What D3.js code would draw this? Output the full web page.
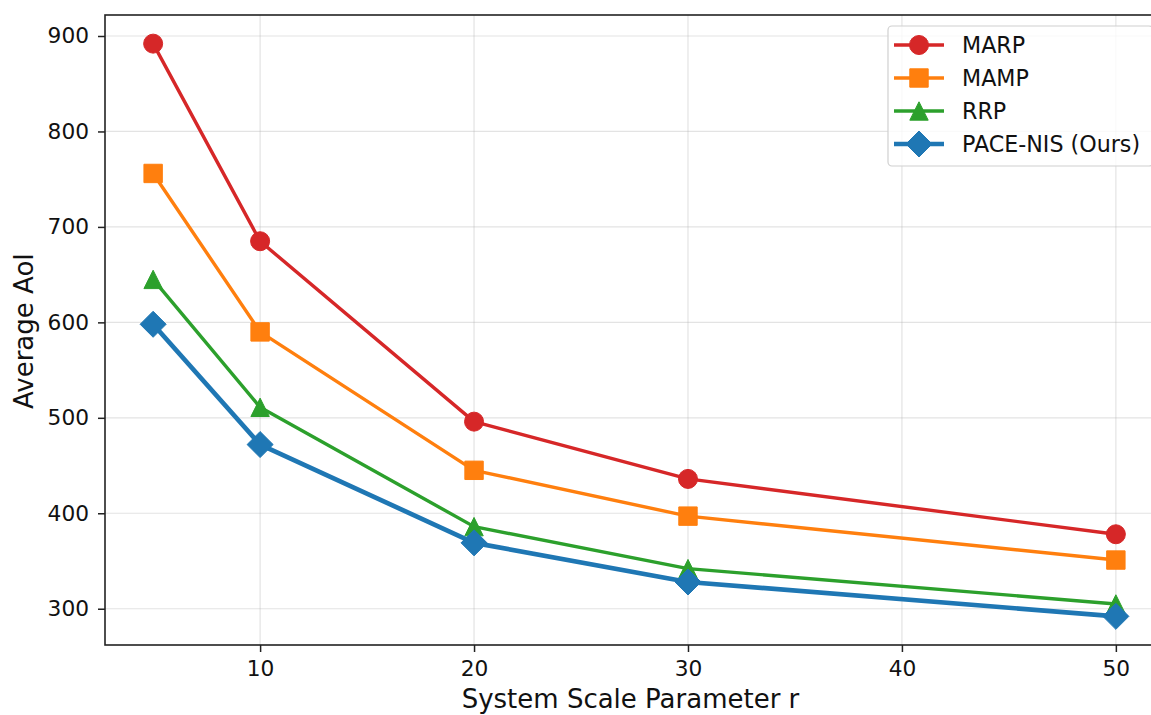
<!DOCTYPE html>
<html>
<head>
<meta charset="utf-8">
<script src="https://cdn.jsdelivr.net/npm/d3@7"></script>
<style>
  body { margin: 0; background: #fff; }
  svg { display: block; font-family: "DejaVu Sans", sans-serif; }
</style>
</head>
<body>
<div id="chart"></div>
<script>
// data
var rValues = [5, 10, 20, 30, 50];
var marp = [892, 685, 496, 436, 378];
var mamp = [756, 590, 445, 397, 351];
var rrp = [645, 511, 386, 342, 305];
var paceNis = [598, 472, 369, 328, 292];
var seriesNames = ["MARP", "MAMP", "RRP", "PACE-NIS (Ours)"];
var xTicks = [10, 20, 30, 40, 50];
var yTicks = [300, 400, 500, 600, 700, 800, 900];

var W = 1151, H = 715;
var margin = { top: 15, left: 105 };
var plotW = 1059, plotH = 630;

var series = [
    { name: seriesNames[0], values: marp, color: "#d62728", shape: "circle", width: 3.4 },
    { name: seriesNames[1], values: mamp, color: "#ff7f0e", shape: "square", width: 3.4 },
    { name: seriesNames[2], values: rrp, color: "#2ca02c", shape: "triangle", width: 3.4 },
    { name: seriesNames[3], values: paceNis, color: "#1f77b4", shape: "diamond", width: 4.7 }
];

// matplotlib style 5% margins
var xMin = d3.min(rValues), xMax = d3.max(rValues);
var yMin = d3.min(series, function (s) { return d3.min(s.values); });
var yMax = d3.max(series, function (s) { return d3.max(s.values); });
var xPad = (xMax - xMin) * 0.05, yPad = (yMax - yMin) * 0.05;

var x = d3.scaleLinear().domain([xMin - xPad, xMax + xPad]).range([0, plotW]);
var y = d3.scaleLinear().domain([yMin - yPad, yMax + yPad]).range([plotH, 0]);

var svg = d3.select("#chart").append("svg")
    .attr("width", W)
    .attr("height", H);

var g = svg.append("g")
    .attr("transform", "translate(" + margin.left + "," + margin.top + ")");

// grid
g.append("g").selectAll("line.vgrid")
    .data(xTicks).enter().append("line")
    .attr("x1", function (d) { return x(d); })
    .attr("x2", function (d) { return x(d); })
    .attr("y1", 0).attr("y2", plotH)
    .style("stroke", "#b0b0b0").style("stroke-opacity", 0.35).style("stroke-width", 1.2);

g.append("g").selectAll("line.hgrid")
    .data(yTicks).enter().append("line")
    .attr("y1", function (d) { return y(d); })
    .attr("y2", function (d) { return y(d); })
    .attr("x1", 0).attr("x2", plotW)
    .style("stroke", "#b0b0b0").style("stroke-opacity", 0.35).style("stroke-width", 1.2);

// axes
var xAxis = d3.axisBottom(x).tickValues(xTicks).tickSize(7).tickPadding(9).tickSizeOuter(0);
var yAxis = d3.axisLeft(y).tickValues(yTicks).tickSize(7).tickPadding(9).tickSizeOuter(0);

var gx = g.append("g").attr("transform", "translate(0," + plotH + ")").call(xAxis);
var gy = g.append("g").call(yAxis);

[gx, gy].forEach(function (a) {
    a.select(".domain").remove();
    a.selectAll(".tick line").style("stroke", "#222").style("stroke-width", 1.5);
    a.selectAll(".tick text")
        .style("font-size", "21.7px")
        .style("fill", "#111")
        .style("font-family", "DejaVu Sans, sans-serif");
});

// frame
g.append("rect")
    .attr("x", 0).attr("y", 0)
    .attr("width", plotW).attr("height", plotH)
    .style("fill", "none").style("stroke", "#222").style("stroke-width", 1.6);

// axis labels
svg.append("text")
    .attr("x", margin.left + plotW / 2 - 4)
    .attr("y", 708)
    .attr("text-anchor", "middle")
    .style("font-size", "26px")
    .style("fill", "#111")
    .text("System Scale Parameter r");

svg.append("text")
    .attr("transform", "translate(33," + (margin.top + plotH / 2 + 1) + ") rotate(-90)")
    .attr("text-anchor", "middle")
    .style("font-size", "26px")
    .style("fill", "#111")
    .text("Average AoI");

var markerSize = 18.4;
function markerPath(shape) {
    var s = markerSize;
    if (shape === "circle") return d3.symbol().type(d3.symbolCircle).size(Math.PI * Math.pow(s / 2 + 0.3, 2))();
    if (shape === "square") return d3.symbol().type(d3.symbolSquare).size(s * s)();
    if (shape === "triangle") {
        var h = s / 2;
        return "M0," + (-h) + "L" + h + "," + h + "L" + (-h) + "," + h + "Z";
    }
    // diamond: square rotated 45 degrees
    var d = s / Math.SQRT2;
    return "M0," + (-d) + "L" + d + ",0L0," + d + "L" + (-d) + ",0Z";
}

var line = d3.line()
    .x(function (d, i) { return x(rValues[i]); })
    .y(function (d) { return y(d); });

series.forEach(function (s) {
    var sg = g.append("g").attr("class", "series");
    sg.append("path")
        .datum(s.values)
        .attr("d", line)
        .style("fill", "none")
        .style("stroke", s.color)
        .style("stroke-width", s.width)
        .style("stroke-linejoin", "round")
        .style("stroke-linecap", "round");

    sg.selectAll("path.marker")
        .data(s.values).enter().append("path")
        .attr("class", "marker")
        .attr("d", markerPath(s.shape))
        .attr("transform", function (d, i) { return "translate(" + x(rValues[i]) + "," + y(d) + ")"; })
        .style("fill", s.color)
        .style("stroke", s.color)
        .style("stroke-width", 1);
});

// legend
var lgX = 888, lgY = 26, lgW = 265, lgH = 140, rowH = 33;
var legend = svg.append("g");
legend.append("rect")
    .attr("x", lgX).attr("y", lgY)
    .attr("width", lgW).attr("height", lgH)
    .attr("rx", 4).attr("ry", 4)
    .style("fill", "#fff").style("fill-opacity", 0.8)
    .style("stroke", "#d0d0d0").style("stroke-width", 1.2);

var items = legend.selectAll("g.item")
    .data(series).enter().append("g")
    .attr("class", "item")
    .attr("transform", function (d, i) { return "translate(" + lgX + "," + (45 + i * rowH) + ")"; });

items.append("line")
    .attr("x1", 6).attr("x2", 56)
    .style("stroke", function (d) { return d.color; })
    .style("stroke-width", function (d) { return d.width; });

items.append("path")
    .attr("d", function (d) { return markerPath(d.shape); })
    .attr("transform", "translate(31,0)")
    .style("fill", function (d) { return d.color; })
    .style("stroke", function (d) { return d.color; })
    .style("stroke-width", 1);

items.append("text")
    .attr("x", 74)
    .attr("dy", "0.36em")
    .style("font-size", "22.2px")
    .style("fill", "#111")
    .text(function (d) { return d.name; });
</script>
</body>
</html>
